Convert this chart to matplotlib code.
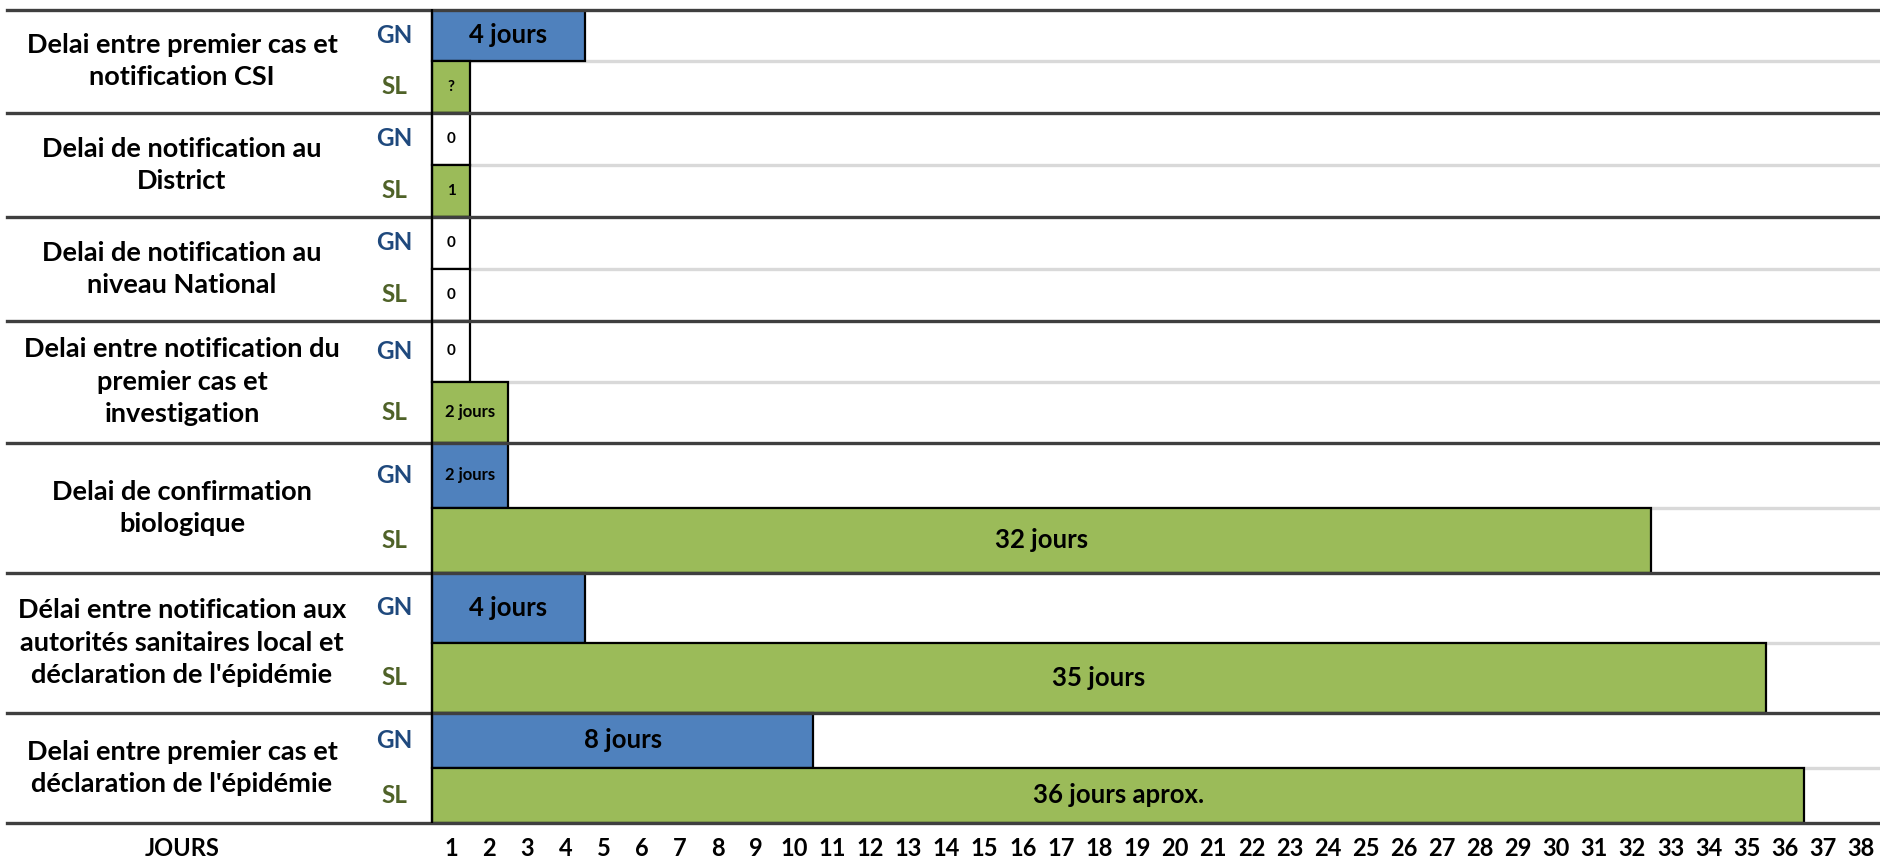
import matplotlib
matplotlib.use("Agg")
import matplotlib.pyplot as plt
import numpy as np

plt.rcParams["font.family"] = ["Lato", "DejaVu Sans"]
plt.rcParams["font.weight"] = "bold"

delais = [
    "Delai entre premier cas et\nnotification CSI",
    "Delai de notification au\nDistrict",
    "Delai de notification au\nniveau National",
    "Delai entre notification du\npremier cas et\ninvestigation",
    "Delai de confirmation\nbiologique",
    "Délai entre notification aux\nautorités sanitaires local et\ndéclaration de l'épidémie",
    "Delai entre premier cas et\ndéclaration de l'épidémie",
]
# jours couverts par chaque barre (None = inconnu)
gn_jours = [4, 0, 0, 0, 2, 4, 10]
sl_jours = [None, 1, 0, 2, 32, 35, 36]
gn_textes = ["4 jours", "0", "0", "0", "2 jours", "4 jours", "8 jours"]
sl_textes = ["?", "1", "0", "2 jours", "32 jours", "35 jours", "36 jours aprox."]
jours = list(range(1, 39))

# hauteur de chaque bloc (px), partagée entre GN et SL
hauteurs = [103.2, 104, 104, 122, 130, 140, 110]

bleu = "#4F81BD"
vert = "#9BBB59"
col_gn = "#1F497D"
col_sl = "#4F6228"

W, H = 1881, 863
fig = plt.figure(figsize=(W / 100, H / 100), dpi=100)
top_px, bot_px, left_px = 9.5, 822.7, 432.3
day_px = 38.1
ax = fig.add_axes([0, 1 - bot_px / H, 1, (bot_px - top_px) / H])
ax.set_xlim(-left_px / day_px, (W - left_px) / day_px)
ax.set_ylim(sum(hauteurs), 0)
for s in ax.spines.values():
    s.set_visible(False)
ax.set_yticks([])


def taille(texte):
    if "jours" in texte and len(texte) > 7 or texte in ("4 jours", "8 jours"):
        return 18.5
    if "jours" in texte:
        return 12
    return 11


def cell(y, h, val, color, texte):
    if val is None:
        w, fc = 1, color
    elif val == 0:
        w, fc = 1, "white"
    else:
        w, fc = val, color
    ax.barh(y, w, height=h, left=0, align="edge", color=fc,
            edgecolor="black", linewidth=1.6, zorder=2)
    ax.text(w / 2, y + h / 2, texte, ha="center", va="center",
            fontsize=taille(texte), fontweight="bold", zorder=4)


x_right = (W - left_px) / day_px
x_lab = (182 - left_px) / day_px
y = 0
for i, h in enumerate(hauteurs):
    hr = h / 2
    # séparation claire entre GN et SL
    ax.hlines(y + hr, 0, x_right, color="#D9D9D9", linewidth=2.4, zorder=1)
    cell(y, hr, gn_jours[i], bleu, gn_textes[i])
    cell(y + hr, hr, sl_jours[i], vert, sl_textes[i])
    ax.text(-1.0, y + hr / 2, "GN", color=col_gn, ha="center", va="center",
            fontsize=17.5, fontweight="bold")
    ax.text(-1.0, y + hr * 1.5, "SL", color=col_sl, ha="center", va="center",
            fontsize=17.5, fontweight="bold")
    ax.text(x_lab, y + h / 2, delais[i], ha="center", va="center",
            multialignment="center", fontsize=19.5, fontweight="bold",
            linespacing=1.42)
    y += h

# lignes de séparation des blocs
bords = np.concatenate([[0], np.cumsum(hauteurs)])
for b in bords:
    ax.axhline(b, xmin=7 / W, xmax=1, color="#3F3F3F", linewidth=2.4,
               zorder=3, clip_on=False)
ax.axvline(0, color="black", linewidth=1.6, zorder=3)

ax.set_xticks(np.array(jours) - 0.5)
ax.set_xticklabels([str(j) for j in jours], fontsize=17, fontweight="bold")
ax.tick_params(axis="x", length=0, pad=10)
fig.text(182 / W, 1 - 848 / H, "JOURS", ha="center", va="center",
         fontsize=17, fontweight="bold")

fig.savefig("out.png", dpi=100, facecolor="white")
